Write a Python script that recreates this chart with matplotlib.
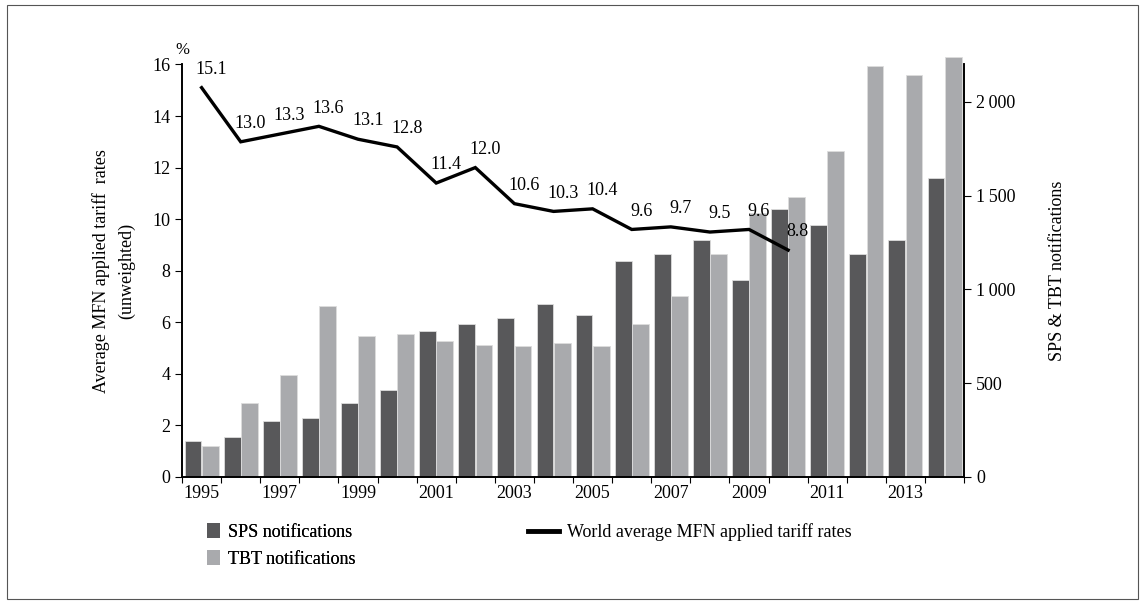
import numpy as np
import matplotlib
matplotlib.use("Agg")
import matplotlib.pyplot as plt
from matplotlib.patches import Patch, Rectangle
from matplotlib.lines import Line2D

plt.rcParams['font.family'] = ['Liberation Serif', 'DejaVu Serif']
plt.rcParams['font.size'] = 13

years = list(range(1995, 2015))
sps = [190, 213, 297, 315, 395, 464, 777, 814, 846, 921, 866, 1154, 1191, 1266, 1049, 1429,
       1342, 1191, 1266, 1593]
tbt = [164, 395, 546, 914, 752, 765, 727, 704, 697, 715, 697, 816, 965, 1191, 1410, 1493,
       1740, 2192, 2142, 2242]
tariff_years = list(range(1995, 2011))
tariff = [15.1, 13.0, 13.3, 13.6, 13.1, 12.8, 11.4, 12.0, 10.6, 10.3, 10.4, 9.6, 9.7, 9.5, 9.6, 8.8]

sps_color = '#58585a'
tbt_color = '#a9aaad'

fig = plt.figure(figsize=(11.45, 6.04), dpi=100)
ax2 = fig.add_axes([0.159, 0.2103, 0.683, 0.683])   # notifications (right)
ax = ax2.twinx()                                    # tariff line (left)
ax.yaxis.tick_left()
ax.yaxis.set_label_position('left')
ax2.yaxis.tick_right()
ax2.yaxis.set_label_position('right')
ax.set_zorder(ax2.get_zorder() + 1)
ax.patch.set_visible(False)

x = np.arange(len(years))
w = 0.43
ax2.bar(x - w / 2 - 0.005, sps, w, color=sps_color, edgecolor='#dddddd', linewidth=0.6, clip_on=False)
ax2.bar(x + w / 2 + 0.005, tbt, w, color=tbt_color, edgecolor='#dddddd', linewidth=0.6, clip_on=False)
ax2.set_ylim(0, 2200)
ax2.set_yticks([0, 500, 1000, 1500, 2000])
ax2.set_yticklabels(['0', '500', '1\u2009000', '1\u2009500', '2\u2009000'])
ax2.set_ylabel('SPS & TBT notifications', labelpad=24)

xl = np.arange(len(tariff_years))
ax.plot(xl, tariff, color='black', linewidth=2.4, solid_joinstyle='miter')
for xi, v in zip(xl, tariff):
    ax.annotate(f'{v:.1f}', (xi, v), xytext=(7, 7), textcoords='offset points',
                ha='center', va='bottom', fontsize=13)
ax.set_ylim(0, 16)
ax.set_yticks(range(0, 17, 2))
ax.set_ylabel('Average MFN applied tariff  rates\n(unweighted)', labelpad=12, linespacing=1.6)
ax.text(0, 1.015, '%', transform=ax.transAxes, ha='center', va='bottom', fontsize=12)

ax2.set_xlim(-0.5, len(years) - 0.5)
ax2.set_xticks(np.arange(len(years) + 1) - 0.5)
ax2.set_xticklabels([])
ax2.set_xticks(x[::2], [str(y) for y in years[::2]], minor=True)
ax2.tick_params(axis='x', which='minor', length=0, pad=6)
ax2.tick_params(axis='x', which='major', length=4, direction='out')

for a in (ax, ax2):
    a.spines['top'].set_visible(False)
    for s in a.spines.values():
        s.set_linewidth(1.2)
    a.tick_params(axis='y', length=5)

leg1 = fig.legend([Patch(facecolor=sps_color, edgecolor='none'),
                   Patch(facecolor=tbt_color, edgecolor='none')],
                  ['SPS notifications', 'TBT notifications'],
                  loc='upper left', bbox_to_anchor=(0.181, 0.134),
                  frameon=False, handlelength=0.7, handleheight=0.9, handletextpad=0.45,
                  labelspacing=0.5, borderpad=0, borderaxespad=0)
fig.legend([Line2D([], [], color='black', linewidth=3.5)],
           ['World average MFN applied tariff rates'],
           loc='upper left', bbox_to_anchor=(0.461, 0.134),
           frameon=False, handlelength=1.7, handletextpad=0.45,
           borderpad=0, borderaxespad=0)
fig.add_artist(leg1)

fig.patches.append(Rectangle((0.006, 0.008), 0.988, 0.984, transform=fig.transFigure,
                             fill=False, edgecolor='#555555', linewidth=0.8))

fig.savefig('out.png', dpi=100)
